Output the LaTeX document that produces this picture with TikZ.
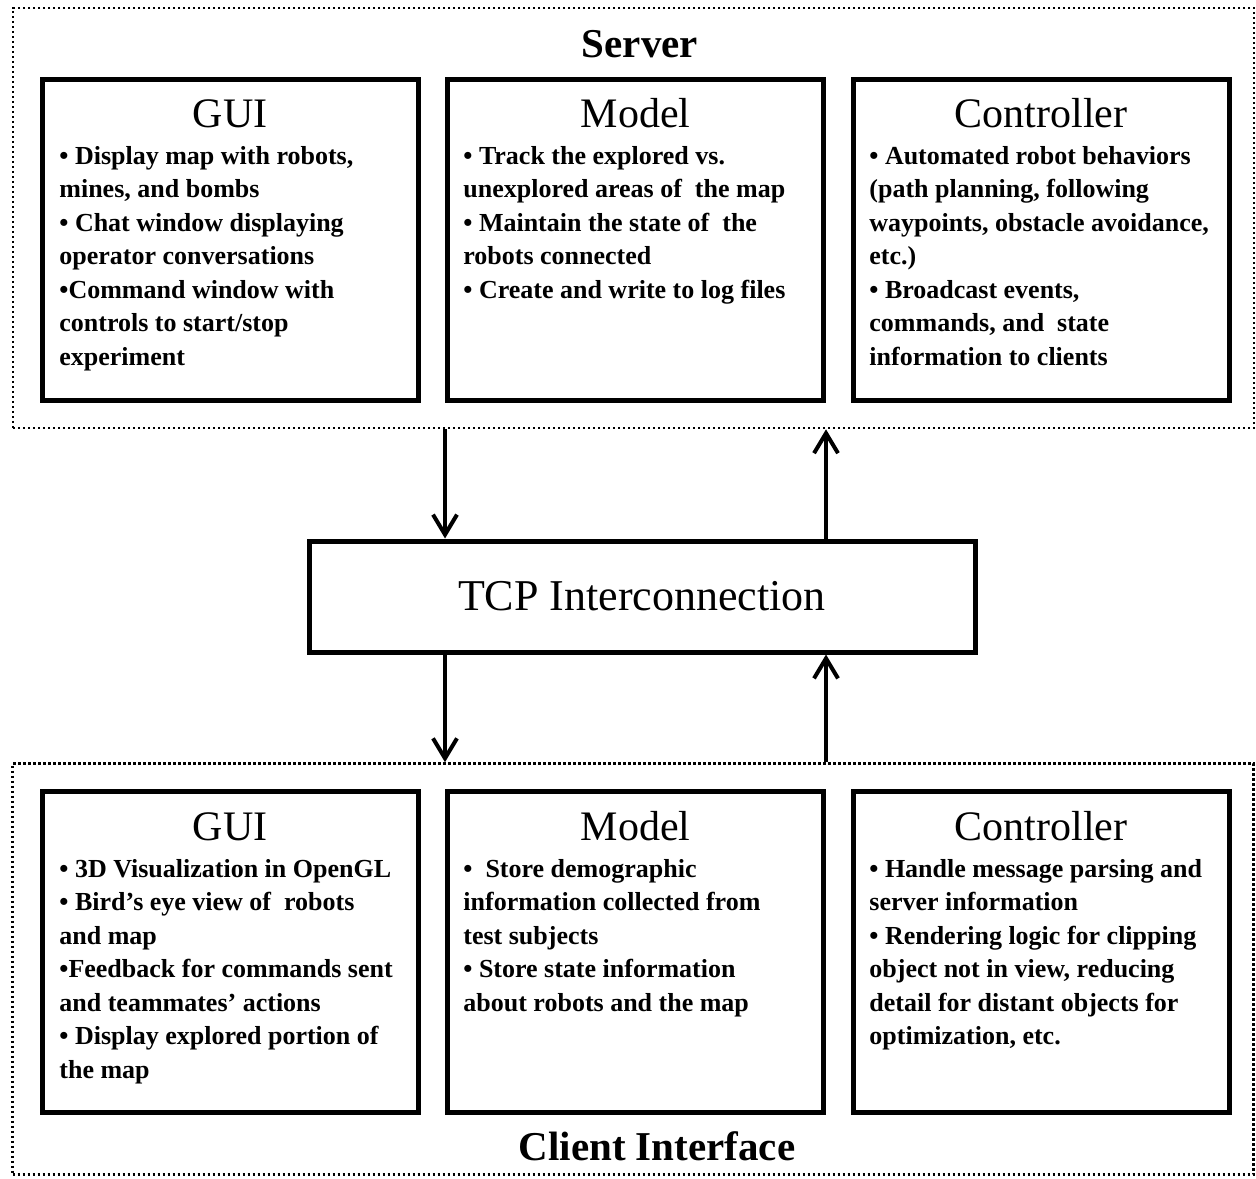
\documentclass[tikz,border=0pt]{standalone}
\usepackage{fontspec}
\setmainfont{Liberation Serif}
\usetikzlibrary{arrows.meta}
\tikzset{
  outerbox/.style={draw, line width=1.3pt, dash pattern=on 1.2pt off 1.3pt, inner sep=0pt, minimum width=620.5pt},
  compbox/.style={draw, line width=2.5pt, inner sep=0pt, minimum width=188pt, minimum height=160.5pt},
  tcpbox/.style={draw, line width=2.5pt, inner sep=0pt, minimum width=333pt, minimum height=55.5pt},
  boxtitle/.style={anchor=base, inner sep=0pt, font=\fontsize{21}{25}\selectfont},
  grouptitle/.style={anchor=base, inner sep=0pt, font=\fontsize{20.5}{25}\selectfont\bfseries},
  bodytext/.style={anchor=north west, inner sep=0pt, align=left, font=\fontsize{13}{16.75}\selectfont\bfseries},
  arr/.style={line width=2pt, -{Straight Barb[length=10pt, width=12pt, line width=2pt]}}
}
\begin{document}
\begin{tikzpicture}[x=0.5pt, y=-0.5pt]
\useasboundingbox (0,0) rectangle (1256,1178);
% outer groups
\node[outerbox, minimum height=210pt] (server) at (633.5,218) {};
\node[outerbox, minimum height=205.5pt] (client) at (633,969) {};
\node[grouptitle] (servertitle) at (640,57) {Server};
\node[grouptitle] (clienttitle) at (657,1160) {Client Interface};
% server components
\node[compbox] (sgui) at (230,240) {};
\node[compbox] (smodel) at (635.5,240) {};
\node[compbox] (sctrl) at (1041,240) {};
\node[boxtitle] (sguit) at (230,127) {GUI};
\node[boxtitle] (smodelt) at (635.5,127) {Model};
\node[boxtitle] (sctrlt) at (1041,127) {Controller};
\node[bodytext] (sguib) at (59,146) {• Display map with robots,\\mines, and bombs\\• Chat window displaying\\operator conversations\\•Command window with\\controls to start/stop\\experiment};
\node[bodytext] (smodelb) at (463,146) {• Track the explored vs.\\unexplored areas of~ the map\\• Maintain the state of~ the\\robots connected\\• Create and write to log files};
\node[bodytext] (sctrlb) at (869,146) {• Automated robot behaviors\\(path planning, following\\waypoints, obstacle avoidance,\\etc.)\\• Broadcast events,\\commands, and~ state\\information to clients};
% TCP
\node[tcpbox] (tcp) at (642,596.5) {};
\node[anchor=base, inner sep=0pt, font=\fontsize{22}{26}\selectfont] (tcpt) at (642,610) {TCP Interconnection};
% client components
\node[compbox] (cgui) at (230,952) {};
\node[compbox] (cmodel) at (635.5,952) {};
\node[compbox] (cctrl) at (1041,952) {};
\node[boxtitle] (cguit) at (230,840) {GUI};
\node[boxtitle] (cmodelt) at (635.5,840) {Model};
\node[boxtitle] (cctrlt) at (1041,840) {Controller};
\node[bodytext] (cguib) at (59,859) {• 3D Visualization in OpenGL\\• Bird’s eye view of~ robots\\and map\\•Feedback for commands sent\\and teammates’ actions\\• Display explored portion of\\the map};
\node[bodytext] (cmodelb) at (463,859) {•~ Store demographic\\information collected from\\test subjects\\• Store state information\\about robots and the map};
\node[bodytext] (cctrlb) at (869,859) {• Handle message parsing and\\server information\\• Rendering logic for clipping\\object not in view, reducing\\detail for distant objects for\\optimization, etc.};
% connectors
\draw[arr] (server.south -| smodel.west) -- (tcp.north -| smodel.west);
\draw[arr] (tcp.north -| smodel.east) -- (server.south -| smodel.east);
\draw[arr] (tcp.south -| cmodel.west) -- (client.north -| cmodel.west);
\draw[arr] (client.north -| cmodel.east) -- (tcp.south -| cmodel.east);
\end{tikzpicture}
\end{document}
